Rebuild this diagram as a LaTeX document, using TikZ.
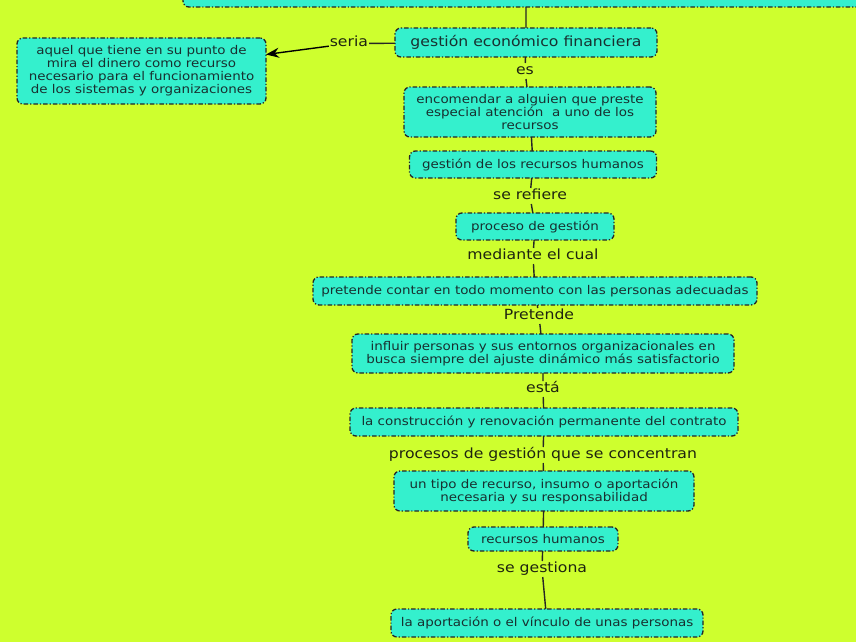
\documentclass[tikz,border=0pt]{standalone}
\usepackage{fontspec}
\setmainfont{DejaVu Sans}[FakeStretch=1.12]
\usepackage{tikz}
\usetikzlibrary{positioning, arrows.meta}
\definecolor{mapback}{RGB}{206,255,46}
\definecolor{conceptfill}{RGB}{52,240,205}
\definecolor{concepttext}{RGB}{24,48,48}
\definecolor{linktext}{RGB}{30,36,16}
\tikzset{
	>={Stealth[length=13pt,width=10pt]}, % big filled arrow heads
	concept/.style={draw=black!85, fill=conceptfill, text=concepttext, rounded corners=6pt, line width=1.3pt, dash pattern=on 4.5pt off 2pt on 1.2pt off 2pt, inner sep=3pt, outer sep=0pt, align=center, font=\fontsize{12}{13}\selectfont}, % the boxes of the map
	linkword/.style={text=linktext, inner sep=1pt, outer sep=0pt, text height=10.5pt, text depth=3.5pt, font=\fontsize{14}{16}\selectfont}, % the words on the links
	connector/.style={draw=black!85, line width=1.4pt}, % the lines between boxes and words
}

\begin{document}
\begin{tikzpicture}[x=1pt, y=-1pt]
	\fill[mapback] (0,0) rectangle (856,642);
	\useasboundingbox (0,0) rectangle (856,642);
	\clip (0,0) rectangle (856,642);
			\node[concept, minimum width=686pt, minimum height=40pt] (top) at (526,-13) {};
			\node[concept, minimum width=262pt, minimum height=29pt, font=\fontsize{14}{16}\selectfont, below=21pt of top] (gef) {gestión económico financiera};
			\node[linkword, left=26pt of gef, yshift=-1pt] (seria) {seria};
			\node[concept, minimum width=249pt, minimum height=66pt, left=129pt of gef, yshift=-28.5pt] (din) {aquel que tiene en su punto de\\mira el dinero como recurso\\necesario para el funcionamiento\\de los sistemas y organizaciones};
			\node[linkword, below=6pt of gef, xshift=-1pt] (es) {es};
			\node[concept, minimum width=252pt, minimum height=50pt, below=30pt of gef, xshift=4pt] (enc) {encomendar a alguien que preste\\especial atención \ a uno de los\\recursos};
			\node[concept, minimum width=247pt, minimum height=27pt, below=14pt of enc, xshift=3pt] (grh) {gestión de los recursos humanos};
			\node[linkword, below=10pt of grh, xshift=-3pt] (refiere) {se refiere};
			\node[concept, minimum width=158pt, minimum height=27pt, below=35pt of grh, xshift=2pt] (pdg) {proceso de gestión};
			\node[linkword, below=8pt of pdg, xshift=-2pt] (mediante) {mediante el cual};
			\node[concept, minimum width=444pt, minimum height=28pt, below=37pt of pdg] (pcm) {pretende contar en todo momento con las personas adecuadas};
			\node[linkword, below=3pt of pcm, xshift=4pt] (pretende) {Pretende};
			\node[concept, minimum width=382pt, minimum height=39pt, below=29pt of pcm, xshift=8pt] (inf) {influir personas y sus entornos organizacionales en\\busca siempre del ajuste dinámico más satisfactorio};
			\node[linkword, below=8pt of inf] (esta) {está};
			\node[concept, minimum width=388pt, minimum height=28pt, below=35pt of inf, xshift=1pt] (con) {la construcción y renovación permanente del contrato};
			\node[linkword, below=11pt of con, xshift=-1pt] (procesos) {procesos de gestión que se concentran};
			\node[concept, minimum width=300pt, minimum height=40pt, below=35pt of con] (tip) {un tipo de recurso, insumo o aportación\\necesaria y su responsabilidad};
			\node[concept, minimum width=150pt, minimum height=24pt, below=16pt of tip, xshift=-1pt] (rh) {recursos humanos};
			\node[linkword, below=10pt of rh, xshift=-1pt] (gestiona) {se gestiona};
			\node[concept, minimum width=312pt, minimum height=28pt, below=58pt of rh, xshift=4pt] (apo) {la aportación o el vínculo de unas personas};
	\draw[connector] (top) -- (gef)
			(gef) -- (seria)
			(gef) -- (es) (es) -- (enc)
			(enc) -- (grh)
			(grh) -- (refiere) (refiere) -- (pdg)
			(pdg) -- (mediante) (mediante) -- (pcm)
			(pcm) -- (pretende) (pretende) -- (inf)
			(inf) -- (esta) (esta) -- (con)
			(con) -- (procesos) (procesos) -- (tip)
			(tip) -- (rh)
			(rh) -- (gestiona) (gestiona) -- (apo);
	\draw[connector, ->, draw=black] (seria) -- (din);
\end{tikzpicture}
\end{document}
